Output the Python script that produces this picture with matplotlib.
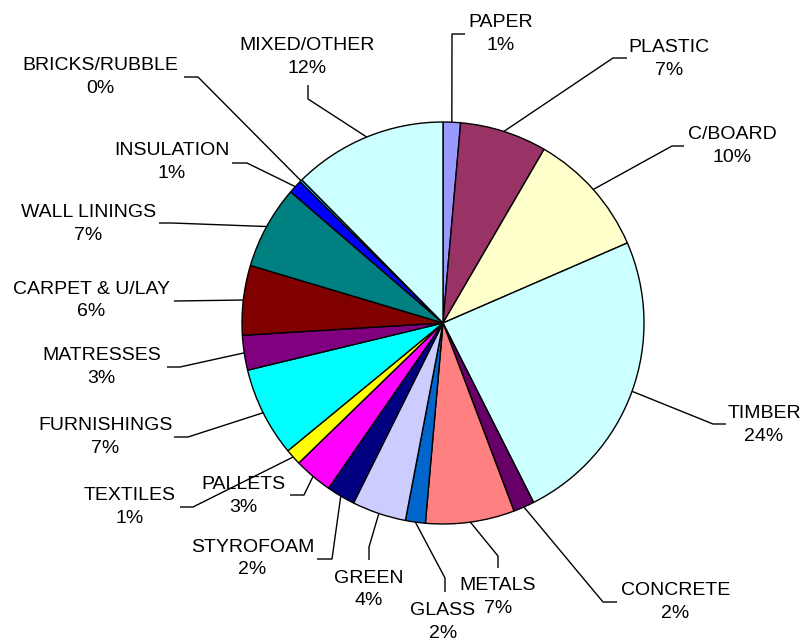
import numpy as np
import matplotlib.pyplot as plt

# waste composition, clockwise from 12 o'clock
categories = ["PAPER", "PLASTIC", "C/BOARD", "TIMBER", "CONCRETE", "METALS",
              "GLASS", "GREEN", "STYROFOAM", "PALLETS", "TEXTILES",
              "FURNISHINGS", "MATRESSES", "CARPET & U/LAY", "WALL LININGS",
              "INSULATION", "BRICKS/RUBBLE", "MIXED/OTHER"]
shares = [1.4, 7.0, 10.1, 24.1, 1.7, 7.15, 1.6, 4.35, 2.3, 3.1, 1.3,
          7.2, 2.8, 5.6, 6.7, 1.1, 0.2, 12.4]
colors = ["#9999FF", "#993366", "#FFFFCC", "#CCFFFF", "#660066", "#FF8080",
          "#0066CC", "#CCCCFF", "#000080", "#FF00FF", "#FFFF00",
          "#00FFFF", "#800080", "#800000", "#008080",
          "#0000FF", "#00CCFF", "#CCFFFF"]

# label layout in pixel coords: text centre, elbow, end of leader
LAYOUT = {
    "PAPER":          ((501, 34),    (452, 34),  (465, 34)),
    "PLASTIC":        ((669, 59),    (613, 58),  (627, 58)),
    "C/BOARD":        ((732.5, 146), (672, 146), (684, 146)),
    "TIMBER":         ((764, 425),   (713, 424), (726, 424)),
    "CONCRETE":       ((675.5, 602), (603, 602), (617, 602)),
    "METALS":         ((498, 597),   (498, 556), (498, 568)),
    "GLASS":          ((443, 622),   (445, 578), (445, 592)),
    "GREEN":          ((368.5, 589.5), (369, 547), (369, 560)),
    "STYROFOAM":      ((252.5, 558.5), (332, 559), (317, 559)),
    "PALLETS":        ((243.3, 496), (304, 495), (290, 495)),
    "TEXTILES":       ((130, 507),   (193, 507), (180, 507)),
    "FURNISHINGS":    ((105.5, 437), (188, 437), (174, 437)),
    "MATRESSES":      ((101.7, 367), (180, 367), (167, 367)),
    "CARPET & U/LAY": ((91.3, 300.5), (174, 301), (174, 301)),
    "WALL LININGS":   ((88.3, 224),  (172, 223), (159, 223)),
    "INSULATION":     ((171.7, 162), (247, 163), (232, 163)),
    "BRICKS/RUBBLE":  ((100.5, 77),  (198, 77),  (184, 77)),
    "MIXED/OTHER":    ((306.7, 57),  (308, 99),  (308, 85)),
}

W, H = 804, 643
CX, CY, R = 443, 323, 201

plt.rcParams["font.family"] = ["Liberation Sans", "DejaVu Sans"]


def px(x, y):
    # pixel coords (origin top-left) -> data coords
    return x, H - y


fig = plt.figure(figsize=(W / 100, H / 100), dpi=100)
ax = fig.add_axes([0, 0, 1, 1])
wedges, _ = ax.pie(shares, colors=colors, startangle=90, counterclock=False,
                   center=px(CX, CY), radius=R,
                   wedgeprops=dict(edgecolor="black", linewidth=1.0))
ax.set_xlim(0, W)
ax.set_ylim(0, H)
ax.set_aspect("equal")
ax.axis("off")

total = sum(shares)
for w, name, val in zip(wedges, categories, shares):
    mid = np.deg2rad((w.theta1 + w.theta2) / 2)
    sx = w.center[0] + R * np.cos(mid)
    sy = w.center[1] + R * np.sin(mid)
    (tx, ty), (ex, ey), (hx, hy) = LAYOUT[name]
    xs = [sx, ex, hx]
    ys = [sy, H - ey, H - hy]
    ax.plot(xs, ys, color="black", lw=1.0, solid_capstyle="butt", zorder=3)
    pct = f"{round(val / total * 100):.0f}%"
    ax.text(*px(tx, ty), f"{name}\n{pct}", ha="center", va="center",
            fontsize=14, linespacing=1.45, color="black", zorder=4)

fig.savefig("out.png", dpi=100)
plt.close(fig)
